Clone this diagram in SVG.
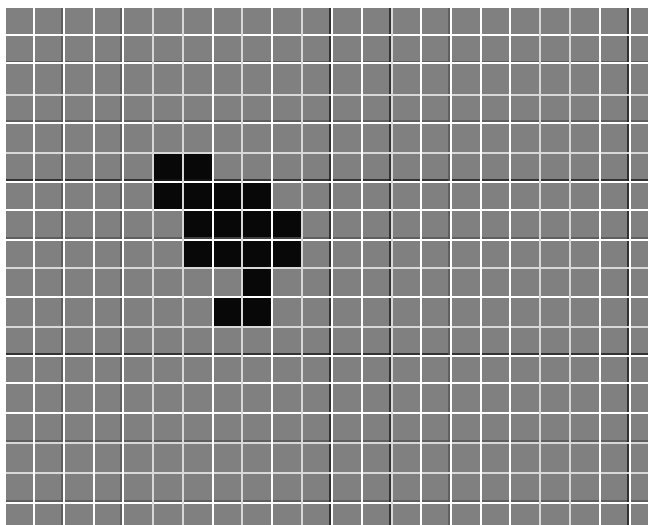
<svg xmlns="http://www.w3.org/2000/svg" width="648" height="525" viewBox="0 0 648 525">
<style>
.w{stroke:#ffffff;stroke-width:2}
.l{stroke:#d8d8d8;stroke-width:2}
.d{stroke:#1a1a1a;stroke-width:1.5}
.s{stroke:#555555;stroke-width:1.5}
.b{fill:#080808}
</style>
<rect x="0" y="0" width="648" height="525" fill="#ffffff"/>
<rect x="6" y="8" width="642" height="517" fill="#808080"/>
<g id="black-cells">
<rect class="b" x="153" y="153" width="60" height="29"/>
<rect class="b" x="153" y="182" width="119" height="28"/>
<rect class="b" x="183" y="210" width="119" height="58"/>
<rect class="b" x="242" y="268" width="30" height="29"/>
<rect class="b" x="213" y="297" width="59" height="30"/>
</g>
<g id="shadows">
<line class="s" x1="6" y1="62" x2="648" y2="62"/>
<line class="s" x1="6" y1="121" x2="648" y2="121"/>
<line class="d" x1="6" y1="180" x2="648" y2="180"/>
<line class="s" x1="6" y1="238" x2="648" y2="238"/>
<line class="d" x1="6" y1="354" x2="648" y2="354"/>
<line class="s" x1="6" y1="441" x2="648" y2="441"/>
<line class="s" x1="6" y1="501" x2="648" y2="501"/>
<line class="s" x1="62" y1="8" x2="62" y2="525"/>
<line class="s" x1="121" y1="8" x2="121" y2="525"/>
<line class="d" x1="330" y1="8" x2="330" y2="525"/>
<line class="d" x1="390" y1="8" x2="390" y2="525"/>
<line class="s" x1="449" y1="8" x2="449" y2="525"/>
<line class="d" x1="628" y1="8" x2="628" y2="525"/>
</g>
<g id="grid-h">
<line class="w" x1="6" y1="35" x2="648" y2="35"/>
<line class="w" x1="6" y1="63" x2="648" y2="63"/>
<line class="l" x1="6" y1="95" x2="648" y2="95"/>
<line class="w" x1="6" y1="123" x2="648" y2="123"/>
<line class="l" x1="6" y1="153" x2="648" y2="153"/>
<line class="w" x1="6" y1="182" x2="648" y2="182"/>
<line class="w" x1="6" y1="210" x2="648" y2="210"/>
<line class="w" x1="6" y1="240" x2="648" y2="240"/>
<line class="l" x1="6" y1="268" x2="648" y2="268"/>
<line class="w" x1="6" y1="297" x2="648" y2="297"/>
<line class="l" x1="6" y1="327" x2="648" y2="327"/>
<line class="w" x1="6" y1="356" x2="648" y2="356"/>
<line class="w" x1="6" y1="383" x2="648" y2="383"/>
<line class="w" x1="6" y1="413" x2="648" y2="413"/>
<line class="l" x1="6" y1="443" x2="648" y2="443"/>
<line class="l" x1="6" y1="473" x2="648" y2="473"/>
<line class="w" x1="6" y1="503" x2="648" y2="503"/>
</g>
<g id="grid-v">
<line class="w" x1="34" y1="8" x2="34" y2="525"/>
<line class="w" x1="64" y1="8" x2="64" y2="525"/>
<line class="w" x1="94" y1="8" x2="94" y2="525"/>
<line class="w" x1="123" y1="8" x2="123" y2="525"/>
<line class="l" x1="153" y1="8" x2="153" y2="525"/>
<line class="l" x1="183" y1="8" x2="183" y2="525"/>
<line class="w" x1="213" y1="8" x2="213" y2="525"/>
<line class="l" x1="242" y1="8" x2="242" y2="525"/>
<line class="w" x1="272" y1="8" x2="272" y2="525"/>
<line class="l" x1="302" y1="8" x2="302" y2="525"/>
<line class="w" x1="332" y1="8" x2="332" y2="525"/>
<line class="w" x1="362" y1="8" x2="362" y2="525"/>
<line class="l" x1="392" y1="8" x2="392" y2="525"/>
<line class="w" x1="421" y1="8" x2="421" y2="525"/>
<line class="w" x1="451" y1="8" x2="451" y2="525"/>
<line class="w" x1="481" y1="8" x2="481" y2="525"/>
<line class="w" x1="510" y1="8" x2="510" y2="525"/>
<line class="l" x1="540" y1="8" x2="540" y2="525"/>
<line class="l" x1="570" y1="8" x2="570" y2="525"/>
<line class="w" x1="600" y1="8" x2="600" y2="525"/>
<line class="w" x1="630" y1="8" x2="630" y2="525"/>
</g>
</svg>
